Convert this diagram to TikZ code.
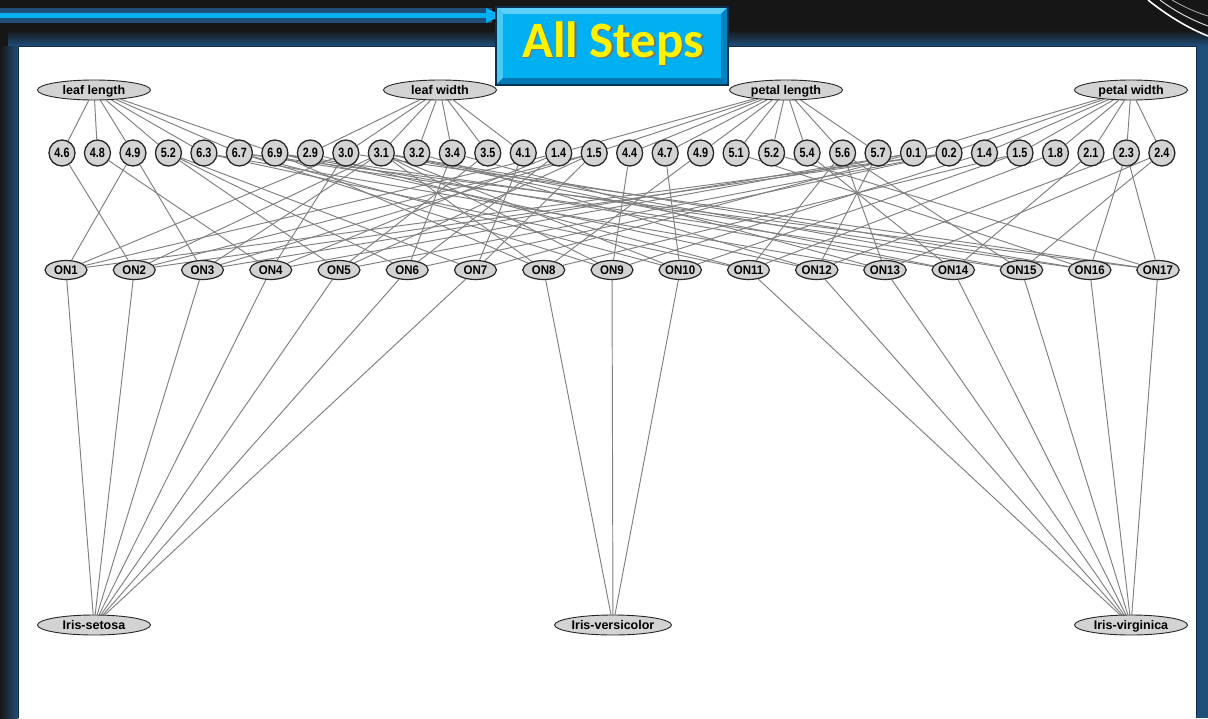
\documentclass[tikz,border=0pt]{standalone}
\usepackage{fontspec}
\setmainfont{Liberation Sans}
\newfontfamily\btnfont{Carlito}
\newfontfamily\valfont[FakeStretch=0.8]{Liberation Sans}
\newfontfamily\onfont[FakeStretch=0.92]{Liberation Sans}
\usetikzlibrary{shapes.geometric}
\pgfdeclarelayer{bg}
\pgfdeclarelayer{links}
\pgfsetlayers{bg,links,main}
\definecolor{nodegray}{HTML}{D3D3D3}
\definecolor{linkgray}{HTML}{808080}
\definecolor{frameblue}{HTML}{1F4E79}
\definecolor{darkbg}{HTML}{161616}
\definecolor{cyanline}{HTML}{00B0F0}
\definecolor{btnlight}{HTML}{5CD0F8}
\definecolor{btndark}{HTML}{0078B4}
\definecolor{btnborder}{HTML}{0B2E4F}
\begin{document}
\begin{tikzpicture}[x=1pt,y=-1pt,
  attr/.style={ellipse, draw=black!85, fill=nodegray, line width=0.9pt,
    minimum width=113pt, minimum height=20pt, inner sep=0pt,
    text height=9pt, text depth=0.5pt,
    font=\fontsize{12.5}{12.5}\selectfont\bfseries},
  val/.style={circle, draw=black!85, fill=nodegray, line width=1.3pt,
    minimum size=26pt, inner sep=0pt, text height=9.3pt, text depth=0pt,
    font=\valfont\fontsize{13.5}{13.5}\selectfont\bfseries},
  onn/.style={ellipse, draw=black!85, fill=nodegray, line width=1.2pt,
    minimum width=42pt, minimum height=19pt, inner sep=0pt,
    text height=9pt, text depth=0pt,
    font=\onfont\fontsize{12.5}{12.5}\selectfont\bfseries},
  link/.style={draw=linkgray, line width=0.95pt}]
\useasboundingbox (0,0) rectangle (1208,718);
\begin{pgfonlayer}{bg}
  % dark frame and blue glow
  \fill[darkbg] (0,0) rectangle (1208,718);
  \shade[top color=darkbg, bottom color=frameblue] (8,30) rectangle (1208,46);
  \shade[left color=darkbg, right color=frameblue] (0,46) rectangle (18,718);
  \fill[frameblue] (1196,46) rectangle (1208,718);
  % white panel
  \fill[white] (18,46) rectangle (1196,718);
  \draw[btnborder, line width=0.8pt] (18,718) -- (18,46) -- (1196,46) -- (1196,718);
  % top blue line with arrow
  \fill[frameblue] (0,8) rectangle (492,23);
  \draw[cyanline, line width=4.5pt] (0,15.5) -- (488,15.5);
  \fill[cyanline] (486,8) -- (502,15.5) -- (486,23) -- cycle;
  % swoosh top right
  \draw[white, line width=1.6pt] (1148,0) .. controls (1168,16) and (1188,28) .. (1208,36);
  \draw[white!85!black, line width=1pt] (1160,0) .. controls (1176,12) and (1192,20) .. (1208,26);
  \draw[white!70!black, line width=0.8pt] (1172,0) .. controls (1186,8) and (1198,13) .. (1208,16);
\end{pgfonlayer}
% All Steps button
\fill[btnborder] (495,6) rectangle (729,86);
\fill[btnlight] (497,8) -- (727,8) -- (721,14) -- (503,14) -- cycle;
\fill[btnlight!80!cyanline] (497,8) -- (503,14) -- (503,78) -- (497,84) -- cycle;
\fill[btndark] (497,84) -- (503,78) -- (721,78) -- (727,84) -- cycle;
\fill[btndark!80!cyanline] (727,8) -- (727,84) -- (721,78) -- (721,14) -- cycle;
\fill[cyanline] (503,14) rectangle (721,78);
\node[font=\btnfont\bfseries\fontsize{51}{51}\selectfont, text=black!55, inner sep=0pt] at (614.5,45) {All Steps};
\node[font=\btnfont\bfseries\fontsize{51}{51}\selectfont, text=yellow, inner sep=0pt] (btn) at (613,43.5) {All Steps};
% attribute nodes
\node[attr] (ll) at (94,90) {leaf length};
\node[attr] (lw) at (440,90) {leaf width};
\node[attr] (pl) at (786,90) {petal length};
\node[attr] (pw) at (1131,90) {petal width};
% value nodes
\foreach \lab [count=\i] in {4.6,4.8,4.9,5.2,6.3,6.7,6.9,2.9,3.0,3.1,3.2,3.4,3.5,4.1,1.4,1.5,4.4,4.7,4.9,5.1,5.2,5.4,5.6,5.7,0.1,0.2,1.4,1.5,1.8,2.1,2.3,2.4}
  \node[val] (v\i) at ({62+(\i-1)*35.48},153) {\lab};
% ON nodes
\foreach \i in {1,...,17}
  \node[onn] (on\i) at ({66+(\i-1)*68.25},270) {ON\i};
% class nodes
\node[attr] (set) at (94,625) {Iris-setosa};
\node[attr] (ver) at (613,625) {Iris-versicolor};
\node[attr] (vir) at (1131,625) {Iris-virginica};
% links
\begin{pgfonlayer}{links}
  \foreach \i in {1,...,7} \draw[link] (ll) -- (v\i);
  \foreach \i in {8,...,14} \draw[link] (lw) -- (v\i);
  \foreach \i in {15,...,24} \draw[link] (pl) -- (v\i);
  \foreach \i in {25,...,32} \draw[link] (pw) -- (v\i);
  \foreach \o/\a/\b/\c/\d in {1/3/9/15/26, 2/1/10/16/26, 3/3/10/16/25, 4/2/9/15/25,
      5/4/13/16/26, 6/4/12/15/26, 7/4/14/16/25, 8/7/10/19/28, 9/6/10/17/27,
      10/6/10/18/28, 11/5/8/23/29, 12/7/11/24/31, 13/5/12/23/32, 14/7/10/22/30,
      15/6/10/23/32, 16/7/10/20/31, 17/6/9/21/31}
  {
    \draw[link] (on\o) -- (v\a);
    \draw[link] (on\o) -- (v\b);
    \draw[link] (on\o) -- (v\c);
    \draw[link] (on\o) -- (v\d);
  }
  \foreach \i in {1,...,7} \draw[link] (on\i) -- (set);
  \foreach \i in {8,...,10} \draw[link] (on\i) -- (ver);
  \foreach \i in {11,...,17} \draw[link] (on\i) -- (vir);
\end{pgfonlayer}
\end{tikzpicture}
\end{document}
